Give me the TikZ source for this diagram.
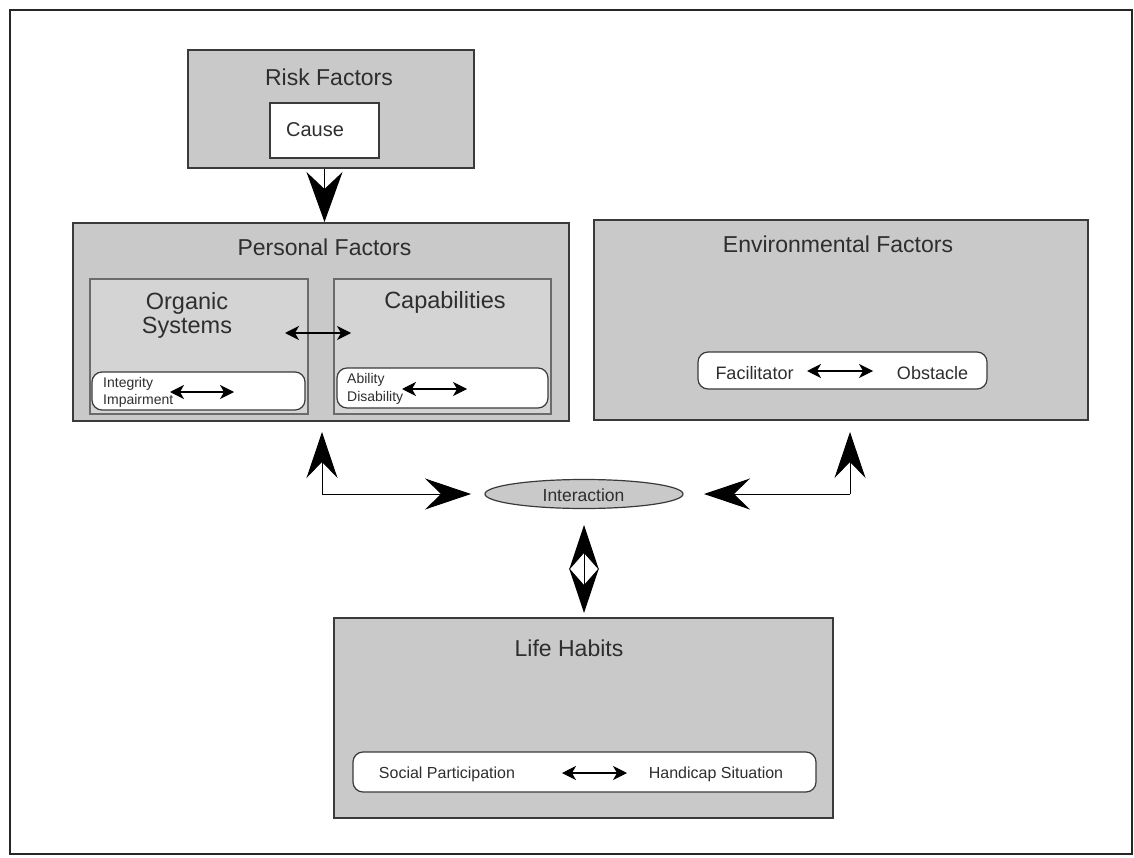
\documentclass[tikz,border=0pt]{standalone}
\usepackage{fontspec}
\setmainfont{Liberation Sans}
\usetikzlibrary{arrows.meta,shapes.geometric}
\definecolor{boxgray}{HTML}{C9C9C9}
\definecolor{innergray}{HTML}{D4D4D4}
\definecolor{edgegray}{HTML}{3A3A3A}
\definecolor{txt}{HTML}{2E2E2E}
\tikzset{
  outerbox/.style={draw=edgegray, line width=2pt, fill=boxgray, inner sep=0pt},
  innerbox/.style={draw=edgegray!75, line width=1.2pt, fill=innergray, inner sep=0pt},
  whitebox/.style={draw=edgegray, line width=1.2pt, fill=white, inner sep=0pt},
  pill/.style={draw=edgegray, line width=1.2pt, fill=white, rounded corners=10pt, inner sep=0pt},
  title/.style={text=txt, inner sep=0pt, font=\fontsize{23}{26}\selectfont},
  label/.style={text=txt, inner sep=0pt},
  bigarrow/.style={line width=1pt, draw=black, -{Stealth[length=46pt,width=31pt,inset=16pt]}},
  smallarrow/.style={line width=1.3pt, {Stealth[length=14pt,width=14pt,inset=4pt]}-{Stealth[length=14pt,width=14pt,inset=4pt]}},
}
\begin{document}
\begin{tikzpicture}[x=1pt,y=-1pt]
\useasboundingbox (0,0) rectangle (1134,858);
\fill[white] (0,0) rectangle (1134,858);
\draw[black!85, line width=2.5pt] (10,10) rectangle (1132,854);

% Risk factors
\node[outerbox, minimum width=286pt, minimum height=118pt] (risk) at (330.5,109) {};
\node[title] (risktitle) at (329,77) {Risk Factors};
\node[whitebox, minimum width=109pt, minimum height=55pt] (causebox) at (324.5,130.5) {};
\node[label, font=\fontsize{20}{22}\selectfont] (cause) at (315,130) {Cause};

% Personal factors
\node[outerbox, minimum width=496pt, minimum height=198pt] (personal) at (321,322) {};
\node[title] (perstitle) at (324.5,247) {Personal Factors};
\node[innerbox, minimum width=218pt, minimum height=135pt] (organic) at (199,346.5) {};
\node[innerbox, minimum width=217pt, minimum height=135pt] (capab) at (442.5,346.5) {};
\node[label, font=\fontsize{23.5}{24}\selectfont, align=center] (orgtext) at (187,315) {Organic\\Systems};
\node[label, font=\fontsize{23.5}{24}\selectfont] (captext) at (445,302) {Capabilities};
\coordinate (osl) at (285,333);
\coordinate (osr) at (351,333);
\draw[smallarrow] (osl) -- (osr);

\node[pill, minimum width=213pt, minimum height=38pt] (integ) at (198.5,391) {};
\node[label, font=\fontsize{14}{17}\selectfont, align=left, anchor=west] (integtext) at (103,392) {Integrity\\Impairment};
\coordinate (il) at (170,392);
\coordinate (ir) at (234,392);
\draw[smallarrow] (il) -- (ir);

\node[pill, minimum width=211pt, minimum height=40pt] (abil) at (442.5,388) {};
\node[label, font=\fontsize{14}{18}\selectfont, align=left, anchor=west] (abiltext) at (347,389) {Ability\\Disability};
\coordinate (al) at (402,389);
\coordinate (ar) at (467,389);
\draw[smallarrow] (al) -- (ar);

% Risk -> personal
\draw[line width=1pt, -{Stealth[length=50pt,width=36pt,inset=17pt]}] (risk.south -| causebox.south) -- (personal.north -| causebox.south);

% Environmental factors
\node[outerbox, minimum width=494pt, minimum height=200pt] (env) at (841,320) {};
\node[title] (envtitle) at (838,244) {Environmental Factors};
\node[pill, minimum width=289pt, minimum height=37pt] (facil) at (842.5,370.5) {};
\node[label, font=\fontsize{18}{20}\selectfont] (factext) at (754.5,373) {Facilitator};
\node[label, font=\fontsize{18}{20}\selectfont] (obstext) at (932.5,373) {Obstacle};
\coordinate (fl) at (807,371);
\coordinate (fr) at (873,371);
\draw[smallarrow] (fl) -- (fr);

% Interaction
\node[ellipse, draw=edgegray, line width=1.2pt, fill=boxgray, minimum width=198pt, minimum height=29pt, inner sep=0pt] (inter) at (584,494) {};
\node[label, font=\fontsize{17.5}{20}\selectfont] (intertext) at (583.5,495) {Interaction};

\coordinate (lc) at (322,494);
\coordinate (rc) at (850,494);
\draw[bigarrow] (lc) -- (322,432);
\draw[bigarrow] (lc) -- (471,494);
\draw[bigarrow] (rc) -- (850,432);
\draw[bigarrow] (rc) -- (704,494);

% vertical double arrow
\draw[line width=1pt, {Stealth[length=45pt,width=30pt,inset=17pt]}-{Stealth[length=45pt,width=30pt,inset=17pt]}] (584,525) -- (584,613);

% Life habits
\node[outerbox, minimum width=499pt, minimum height=200pt] (life) at (583.5,718) {};
\node[title] (lifetitle) at (569,648) {Life Habits};
\node[pill, minimum width=463pt, minimum height=40pt] (social) at (584.5,772) {};
\node[label, font=\fontsize{16}{18}\selectfont] (soctext) at (447,774) {Social Participation};
\node[label, font=\fontsize{16}{18}\selectfont] (handtext) at (716,774) {Handicap Situation};
\coordinate (sl) at (562,773);
\coordinate (sr) at (627,773);
\draw[smallarrow] (sl) -- (sr);
\end{tikzpicture}
\end{document}
